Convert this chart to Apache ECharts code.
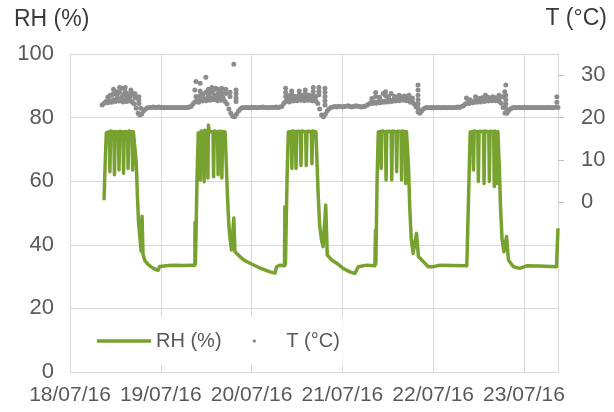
<!DOCTYPE html>
<html>
<head>
<meta charset="utf-8">
<script src="https://cdn.jsdelivr.net/npm/echarts@6/dist/echarts.min.js"></script>
<style>
html,body{margin:0;padding:0;background:#fff;}
#chart{width:614px;height:412px;}
</style>
</head>
<body>
<div id="chart"></div>
<script>
// ---- DATA ----
// x values are hours since 18/07/16 00:00
const startYear = 2016, startMonth = 6, startDay = 18;
const xMaxHours = 129;
const dateTickLabels = ['18/07/16', '19/07/16', '20/07/16', '21/07/16', '22/07/16', '23/07/16'];
const rhAxisTicks = [0, 20, 40, 60, 80, 100];
const tAxisLabels = [0, 10, 20, 30];

// RH (%) readings: [hour, value]
const rhPoints = [
  [9.0,54.0],[9.25,64],[9.6,75.2],
  [10.4,75.6],[10.55,63.0],[10.75,75.8],
  [11.6,75.4],[11.75,62.0],[11.95,75.6],
  [12.8,75.5],[12.95,63.5],[13.15,75.7],
  [14.0,75.4],[14.15,62.5],[14.35,75.6],
  [15.2,75.5],[15.35,64.0],[15.55,75.8],
  [16.4,75.5],[16.55,63.5],[16.75,75.6],
  [17.2,75.5],[17.5,66],[17.8,56],[18.1,47.5],[18.5,42],[18.8,38],[19.05,49],[19.3,37],[19.8,35],[20.5,34],[21.5,33],[22.5,32.3],[23.3,32.0],[23.7,33.2],[24.2,33.6],
  [26,33.5],[28,33.6],[30,33.5],[32,33.6],[33.0,33.6],
  [33.05,47],[33.15,34],[33.4,34],[33.6,62],[33.9,75.2],
  [34.3,75.6],[34.45,60.4],[34.65,75.8],
  [35.3,75.5],[35.45,59.8],[35.65,76.0],
  [36.3,75.8],[36.45,61.0],[36.6,77.7],[36.8,75.6],
  [37.8,75.5],[37.95,61.4],[38.15,75.8],
  [39.0,75.5],[39.15,62.0],[39.35,75.7],
  [40.0,75.6],[40.15,61.0],[40.35,75.6],
  [41.0,75.5],[41.3,66],[41.6,56],[42.0,46],[42.4,41],[42.7,38.4],[43.3,48.4],[43.6,37.8],[44.9,36.3],[46.2,35],[47.6,34.2],[50.2,32.7],[52.9,31.5],[54.2,31.1],[54.6,33.1],[55.5,33.6],
  [56.7,33.4],
  [56.8,52],[56.95,34],[57.2,34],[57.4,62],[57.7,75.5],
  [58.5,75.6],[58.65,64.0],[58.85,75.8],
  [59.6,75.5],[59.75,64.0],[59.95,75.7],
  [60.9,75.6],[61.05,64.9],[61.25,75.8],
  [62.3,75.5],[62.45,64.9],[62.65,75.7],
  [63.8,75.6],[63.95,65.5],[64.15,75.8],
  [65.0,75.5],[65.3,66],[65.6,56],[66.0,46],[66.5,41.5],[66.9,39.4],[67.6,52.5],[68.0,36.8],[69.2,35.2],[70.5,34.2],[72.2,32.6],[74.0,31.5],[75.3,31.0],[76.2,33.1],[78.4,33.6],[80.6,33.4],
  [80.75,44.6],[80.85,34],[81.0,34],[81.2,62],[81.5,75.5],
  [82.1,75.6],[82.25,64.0],[82.45,75.8],
  [83.4,75.5],[83.55,60.4],[83.75,75.7],
  [84.9,75.6],[85.05,60.4],[85.25,75.8],
  [86.2,75.5],[86.35,63.0],[86.55,75.7],
  [87.5,75.6],[87.65,60.4],[87.85,75.8],
  [88.6,75.5],[88.75,59.3],[88.95,75.6],
  [89.2,75.5],[89.5,64],[89.8,52],[90.2,42],[90.7,37.3],[91.6,43.6],[92.1,36.3],[93.4,34.7],[94.7,33.1],[96.0,33.1],[97.8,33.6],[101,33.5],[104.9,33.4],
  [105.3,34],[105.5,62],[105.8,75.5],
  [106.5,75.6],[106.65,63.5],[106.85,75.8],
  [107.8,75.5],[107.95,59.9],[108.15,75.7],
  [109.3,75.6],[109.45,59.3],[109.65,75.8],
  [110.7,75.5],[110.85,59.9],[111.05,75.7],
  [112.0,75.6],[112.15,58.3],[112.35,75.8],
  [112.8,75.5],[112.95,59.3],[113.1,75.6],
  [113.2,75.5],[113.5,64],[113.8,52],[114.2,42],[114.7,37.8],[115.4,42.6],[115.9,35.2],[117.2,33.1],[118.9,32.6],[120.7,33.4],[124,33.3],[128.6,33.1],[129,45.2]
];

// T (°C) regular readings every 30 min, first at 08:30 on 18/07
const tFirstHour = 8.5;
const tStepHours = 0.5;
const tValues = [
  23.0,23.4,23.8,23.5,24.0,23.6,24.2,23.8,24.3,23.9,24.4,23.7,24.1,23.8,24.3,23.9, // 08:30-16:00 18/07
  23.6,23.2,22.2,21.0,20.6,20.9,21.6,22.0,22.3,22.4,22.4,22.5,22.4,22.4,22.5,22.4, // 16:30-24:00
  22.4,22.3,22.4,22.4,22.3,22.4,22.4,22.3,22.4,22.4,22.3,22.4,22.4,22.4,22.5,22.6, // 19/07 00:30-08:00
  23.2,23.7,24.0,23.6,24.4,23.9,24.5,24.0,24.6,24.1,24.7,24.2,24.6,24.0,24.5,24.1,
  24.6,23.8,23.2,22.0,21.0,20.3,20.2,20.8,21.5,22.0,22.3,22.4,22.4,22.4,22.3,22.4,
  22.4,22.4,22.3,22.4,22.4,22.5,22.4,22.4,22.3,22.4,22.4,22.4,22.5,22.4,22.5,22.6, // 20/07
  23.3,23.8,24.2,23.7,24.3,23.9,24.4,24.0,24.5,24.1,24.6,24.0,24.4,24.1,24.5,24.0,
  24.4,23.9,23.3,22.0,20.6,20.2,20.8,21.6,22.1,22.4,22.5,22.6,22.5,22.7,22.6,22.5,
  22.6,22.7,22.8,22.6,22.5,22.6,22.8,22.7,22.6,22.5,22.6,22.7,22.9,23.2,23.5,23.3, // 21/07
  23.7,23.4,23.8,23.5,23.9,23.6,24.0,23.7,24.1,23.8,24.2,23.9,24.3,24.0,24.4,24.1,
  24.4,24.0,24.2,23.6,23.8,23.2,22.5,21.3,21.0,21.6,22.1,22.3,22.4,22.3,22.4,22.3,
  22.4,22.3,22.4,22.3,22.4,22.4,22.3,22.4,22.4,22.3,22.4,22.4,22.5,22.4,22.6,22.8, // 22/07
  23.2,23.5,23.3,23.7,23.5,23.9,23.6,24.0,23.7,24.1,23.8,24.2,23.9,24.3,24.0,24.3,
  24.0,24.2,23.8,23.4,22.4,21.1,21.0,21.7,22.1,22.3,22.4,22.3,22.4,22.4,22.3,22.4,
  22.4,22.3,22.4,22.4,22.3,22.4,22.4,22.3,22.4,22.4,22.3,22.4,22.4,22.4,22.3,22.4, // 23/07
  22.5,22.4
];

// T (°C) additional scattered readings during the day: [hour, value]
const tExtraPoints = [
  [10.0,24.8],[10.6,25.3],[11.0,25.3],[11.5,26.7],[11.5,25.6],[12.3,26.1],[12.5,25.7],[12.5,24.9],[13.1,27.1],[13.1,26.0],
  [13.7,26.9],[13.8,24.9],[14.3,25.5],[14.6,27.1],[14.6,26.1],[15.1,25.7],[15.1,24.8],[15.9,24.9],[16.1,26.5],[16.1,25.5],
  [16.7,25.7],[17.2,25.6],[17.2,24.6],[18.2,24.9],[18.2,24.1],[18.2,23.3],[18.7,22.2],
  [33.0,26.5],[33.3,28.5],[33.3,25.0],[34.4,28.1],[34.4,26.3],[34.4,25.2],[35.2,25.5],[35.9,29.5],[35.9,26.0],[36.6,26.7],
  [36.6,25.3],[37.0,25.9],[37.5,27.1],[37.5,26.2],[38.1,26.6],[38.1,25.4],[38.5,26.9],[39.2,26.7],[39.2,25.8],[39.2,25.0],
  [40.1,26.9],[40.1,26.0],[40.1,25.1],[41.2,26.7],[41.2,25.7],[42.3,26.0],[42.3,25.0],[43.3,32.6],[43.9,26.5],[43.9,25.6],
  [43.9,24.6],[43.9,23.8],
  [57.0,26.9],[57.0,25.9],[57.0,25.0],[58.0,25.2],[58.6,26.3],[58.6,25.4],[59.5,25.0],[60.6,26.3],[60.6,25.4],[61.2,25.3],
  [62.2,26.5],[62.2,25.6],[62.2,24.9],[63.2,25.3],[64.3,27.1],[64.3,26.1],[64.3,25.2],[65.0,25.0],[65.8,27.1],[65.8,26.2],
  [65.8,25.4],[67.4,26.9],[67.4,26.0],[67.4,25.0],[67.4,24.0],[67.4,23.0],
  [79.8,24.5],[80.8,25.9],[80.8,25.0],[81.8,24.8],[82.8,25.7],[83.4,26.1],[83.4,25.2],[84.2,24.9],[84.9,25.7],[85.8,25.0],
  [86.3,24.8],[87.0,25.3],[87.8,24.9],[88.4,25.1],[89.1,24.9],[89.6,25.3],[90.5,24.6],[92.0,27.7],[92.0,26.5],[92.0,25.3],
  [92.0,24.2],[92.0,23.2],[92.0,22.2],
  [104.8,24.6],[105.8,24.2],[107.2,24.9],[108.2,24.5],[109.0,24.7],[109.8,25.3],[110.5,24.8],[111.2,24.6],[111.8,24.9],[112.6,24.7],
  [113.4,25.3],[113.4,24.5],[114.4,24.9],[114.9,26.1],[115.2,27.7],[115.2,25.3],[115.2,24.2],[115.2,23.2],[115.2,22.2],
  [128.7,24.9],[128.7,23.6]
];

// ---- BUILD ----
const HOUR = 3600000, DAY = 24 * HOUR;
const START = Date.UTC(startYear, startMonth, startDay);
const toMs = h => START + h * HOUR;
const rhData = rhPoints.map(p => [toMs(p[0]), p[1]]);
const tData = tValues.map((v, i) => [toMs(tFirstHour + i * tStepHours), v])
  .concat(tExtraPoints.map(p => [toMs(p[0]), p[1]]));

const GREEN = '#78a22f';
const GREY = '#8c8c8c';
const TXT = '#595959';
const GRID = '#d9d9d9';
const FONT = 'Liberation Sans, Arial, sans-serif';

const chart = echarts.init(document.getElementById('chart'), null, {renderer: 'canvas'});
chart.setOption({
  animation: false,
  backgroundColor: '#fff',
  textStyle: {fontFamily: FONT},
  title: [
    {text: 'RH (%)', left: 14, top: 8, padding: 0, textStyle: {fontSize: 23, fontWeight: 'normal', color: '#3a3a3a', fontFamily: FONT}},
    {text: 'T (°C)', right: 7, top: 7, padding: 0, textStyle: {fontSize: 23, fontWeight: 'normal', color: '#3a3a3a', fontFamily: FONT}}
  ],
  grid: {left: 70, right: 56, top: 54, bottom: 40, containLabel: false},
  legend: {
    left: 77, top: 317,
    padding: [14, 3, 14, 20],
    backgroundColor: '#fff',
    itemWidth: 54, itemHeight: 3.5, itemGap: 31,
    textStyle: {fontSize: 20, color: TXT, fontFamily: FONT},
    data: [
      {name: 'RH (%)', icon: 'rect'},
      {name: 'T (°C)', icon: 'circle'}
    ]
  },
  xAxis: {
    type: 'value',
    min: START, max: toMs(xMaxHours), interval: DAY,
    axisLine: {show: true, lineStyle: {color: GRID, width: 1}},
    axisTick: {show: false},
    splitLine: {show: true, lineStyle: {color: GRID, width: 1}},
    axisLabel: {
      color: TXT, fontSize: 21, margin: 13, showMaxLabel: false, fontFamily: FONT,
      formatter: v => dateTickLabels[Math.round((v - START) / DAY)] || ''
    }
  },
  yAxis: [
    {
      type: 'value', min: rhAxisTicks[0], max: rhAxisTicks[rhAxisTicks.length - 1], interval: 20,
      axisLine: {show: true, lineStyle: {color: GRID}},
      axisTick: {show: false},
      splitLine: {show: true, lineStyle: {color: GRID, width: 1}},
      axisLabel: {color: TXT, fontSize: 22, margin: 16, fontFamily: FONT}
    },
    {
      type: 'value', min: -40, max: 35, interval: 10, position: 'right',
      axisLine: {show: true, lineStyle: {color: GRID}},
      axisTick: {show: true, length: 6, lineStyle: {color: '#bfbfbf'}, customValues: tAxisLabels},
      splitLine: {show: false},
      axisLabel: {color: TXT, fontSize: 22, margin: 23, fontFamily: FONT, customValues: tAxisLabels}
    }
  ],
  series: [
    {
      name: 'RH (%)', type: 'line', yAxisIndex: 0, data: rhData,
      showSymbol: false, symbol: 'none',
      lineStyle: {color: GREEN, width: 3.5, join: 'round'},
      itemStyle: {color: GREEN},
      z: 3
    },
    {
      name: 'T (°C)', type: 'scatter', yAxisIndex: 1, data: tData,
      symbolSize: 5,
      itemStyle: {color: GREY, opacity: 1},
      z: 2
    }
  ]
});
</script>
</body>
</html>
